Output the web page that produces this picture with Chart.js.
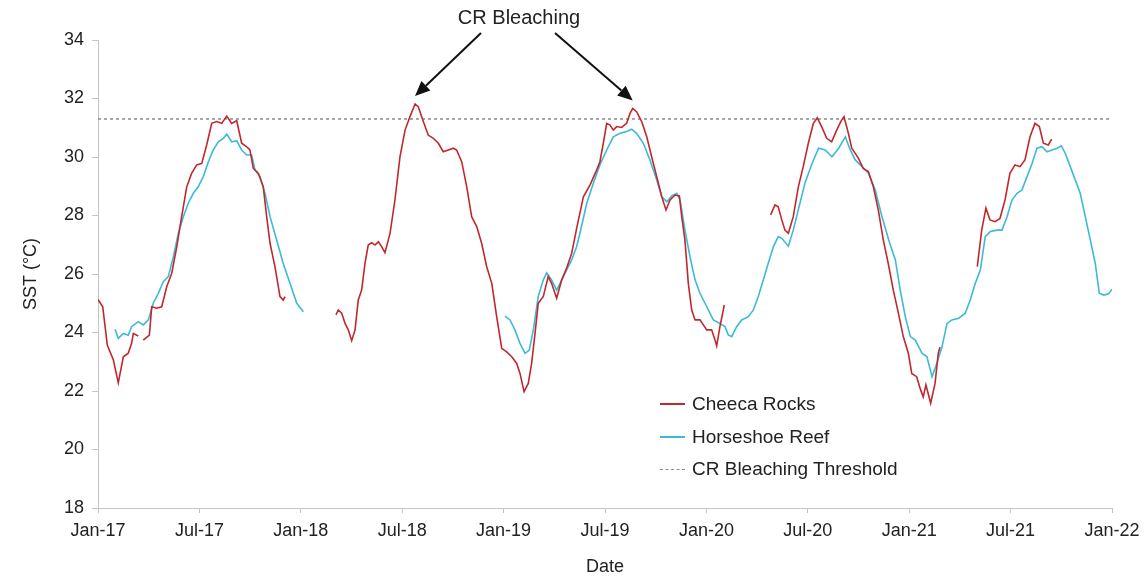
<!DOCTYPE html>
<html>
<head>
<meta charset="utf-8">
<title>SST Cheeca Rocks / Horseshoe Reef</title>
<script src="https://cdn.jsdelivr.net/npm/chart.js@4.4.1/dist/chart.umd.min.js"></script>
<style>
  body { margin: 0; background: #fff; }
  #wrap { position: relative; width: 1148px; height: 583px; font-family: "Liberation Sans", Arial, sans-serif; color: #222; }
  #chart { position: absolute; left: 0; top: 0; }
  #note { position: absolute; left: 519px; top: 6px; transform: translateX(-50%); font-size: 20px; white-space: nowrap; }
  #legend { position: absolute; left: 660px; top: 388px; font-size: 19px; }
  #legend .row { display: flex; align-items: center; height: 32.5px; white-space: nowrap; }
  #legend .swatch { width: 25px; margin-right: 7px; }
</style>
</head>
<body>
<div id="wrap">
  <canvas id="chart" width="1148" height="583"></canvas>
  <div id="note">CR Bleaching</div>
  <div id="legend"></div>
</div>
<script>
// x values are months counted from Jan 2017; null marks a gap in the record
const tickLabels = ['Jan-17', 'Jul-17', 'Jan-18', 'Jul-18', 'Jan-19', 'Jul-19', 'Jan-20', 'Jul-20', 'Jan-21', 'Jul-21', 'Jan-22'];
const bleachingThreshold = 31.3;

const cheecaMonths = [
  0.00, 0.28, 0.55, 0.91, 1.20, 1.50, 1.79, 1.99, 2.09, 2.38, 2.53,
  2.68, 3.04, 3.18, 3.47, 3.77, 4.07, 4.36, 4.66, 4.95, 5.25, 5.54, 5.84, 6.14, 6.43, 6.73, 7.02, 7.32, 7.62, 7.91, 8.21,
  8.50, 8.80, 8.99, 9.19, 9.49, 9.78, 9.98, 10.18, 10.47, 10.77, 10.96, 11.07, 12.50,
  14.08, 14.22, 14.42, 14.62, 14.81, 15.01, 15.21, 15.40, 15.60, 15.80, 15.99, 16.20, 16.39, 16.59, 16.79, 16.98,
  17.28, 17.57, 17.87, 18.17, 18.46, 18.76, 18.95, 19.25, 19.54, 19.84, 20.14, 20.43, 20.73, 21.02, 21.22, 21.52,
  21.82, 22.11, 22.41, 22.70, 23.00, 23.30, 23.59, 23.89, 24.18, 24.48, 24.77, 24.97, 25.21, 25.46, 25.66, 25.86,
  26.05, 26.35, 26.64, 26.84, 27.14, 27.44, 27.73, 28.03, 28.32, 28.72, 29.11, 29.51, 29.70, 29.90, 30.10, 30.30,
  30.49, 30.69, 30.98, 31.28, 31.48, 31.64, 31.87, 32.17, 32.47, 32.76, 33.06, 33.36, 33.61, 33.85, 34.14, 34.40,
  34.54, 34.73, 34.93, 35.13, 35.33, 35.62, 35.82, 36.02, 36.31, 36.51, 36.61, 36.80, 37.06, 38.50,
  39.80, 40.06, 40.25, 40.46, 40.65, 40.85, 41.14, 41.44, 41.73, 42.03, 42.33, 42.56, 42.82, 43.12, 43.41, 43.71,
  43.95, 44.14, 44.40, 44.60, 44.99, 45.28, 45.58, 45.88, 46.17, 46.47, 46.76, 47.06, 47.36, 47.65, 47.95, 48.15,
  48.44, 48.68, 48.83, 48.99, 49.27, 49.53, 49.72, 49.82, 51.00,
  52.03, 52.29, 52.54, 52.78, 53.08, 53.37, 53.67, 53.96, 54.26, 54.56, 54.85, 55.15, 55.44, 55.70, 55.94, 56.23, 56.43
];
const cheecaSST = [
  25.13, 24.88, 23.57, 23.06, 22.28, 23.17, 23.29, 23.63, 23.97, 23.88, null,
  23.74, 23.91, 24.88, 24.83, 24.88, 25.57, 26.02, 26.93, 27.96, 28.98, 29.44, 29.73, 29.78, 30.41, 31.15, 31.21, 31.15, 31.40, 31.15, 31.24,
  30.47, 30.35, 30.24, 29.61, 29.44, 28.98, 27.96, 27.05, 26.25, 25.23, 25.11, 25.23, null,
  24.60, 24.77, 24.66, 24.31, 24.09, 23.72, 24.09, 25.11, 25.45, 26.37, 26.99, 27.07, 26.99, 27.10, 26.93, 26.73,
  27.39, 28.53, 30.01, 30.92, 31.38, 31.81, 31.72, 31.21, 30.75, 30.64, 30.47, 30.18, 30.24, 30.30, 30.24, 29.84,
  28.98, 27.96, 27.62, 27.05, 26.25, 25.68, 24.54, 23.46, 23.34, 23.17, 22.95, 22.60, 21.98, 22.26, 22.95, 23.97,
  25.00, 25.23, 25.91, 25.68, 25.17, 25.80, 26.20, 26.71, 27.55, 28.64, 29.04, 29.56, 29.84, 30.47, 31.15, 31.09,
  30.92, 31.04, 31.01, 31.15, 31.49, 31.66, 31.55, 31.21, 30.69, 30.01, 29.33, 28.64, 28.19, 28.53, 28.70, 28.67,
  27.96, 27.16, 25.68, 24.77, 24.43, 24.43, 24.26, 24.09, 24.09, 23.74, 23.54, 24.20, 24.94, null,
  28.02, 28.36, 28.30, 27.85, 27.50, 27.39, 27.96, 28.98, 29.67, 30.47, 31.15, 31.34, 31.04, 30.64, 30.52, 30.92,
  31.21, 31.38, 30.81, 30.30, 29.96, 29.61, 29.50, 28.98, 28.19, 27.16, 26.36, 25.45, 24.66, 23.86, 23.29, 22.60,
  22.49, 22.03, 21.80, 22.21, 21.58, 22.26, 23.29, 23.50, null,
  26.25, 27.50, 28.25, 27.85, 27.79, 27.90, 28.53, 29.44, 29.73, 29.67, 29.90, 30.69, 31.15, 31.04, 30.47, 30.41, 30.61
];

const horseshoeMonths = [
  1.01, 1.20, 1.50, 1.79, 1.99, 2.38, 2.68, 2.98, 3.27, 3.57, 3.86, 4.16, 4.46, 4.75, 5.05, 5.34,
  5.64, 5.93, 6.23, 6.53, 6.82, 7.12, 7.41, 7.62, 7.91, 8.21, 8.50, 8.80, 9.09, 9.29, 9.59, 9.88,
  10.18, 10.57, 10.96, 11.36, 11.76, 12.15, 18.00,
  24.08, 24.38, 24.67, 24.97, 25.27, 25.52, 25.76, 26.05, 26.35, 26.55, 26.84, 27.14, 27.44, 27.73, 28.03, 28.32,
  28.52, 28.92, 29.31, 29.70, 30.10, 30.49, 30.89, 31.28, 31.58, 31.87, 32.27, 32.66, 33.06, 33.36, 33.66, 33.95,
  34.25, 34.44, 34.73, 35.03, 35.33, 35.62, 36.02, 36.41, 36.80, 37.10, 37.30, 37.50, 37.79, 38.09, 38.48, 38.78,
  39.07, 39.37, 39.66, 39.96, 40.25, 40.46, 40.85, 41.14, 41.44, 41.83, 42.25, 42.64, 43.03, 43.43, 43.83, 44.22,
  44.51, 44.81, 45.21, 45.60, 45.99, 46.39, 46.79, 47.18, 47.47, 47.77, 48.07, 48.36, 48.76, 49.05, 49.35, 49.64,
  49.94, 50.24, 50.53, 50.93, 51.32, 51.61, 51.91, 52.21, 52.50, 52.80, 53.20, 53.49, 53.79, 54.08, 54.38, 54.67,
  54.97, 55.27, 55.56, 55.86, 56.15, 56.45, 56.75, 57.00, 57.24, 57.53, 57.83, 58.12, 58.42, 58.72, 59.01, 59.25,
  59.51, 59.80, 60.00
];
const horseshoeSST = [
  24.11, 23.80, 23.97, 23.91, 24.20, 24.37, 24.26, 24.43, 25.00, 25.34, 25.74, 25.91, 26.59, 27.39, 27.96, 28.42,
  28.76, 28.98, 29.33, 29.84, 30.24, 30.52, 30.64, 30.78, 30.52, 30.55, 30.24, 30.07, 30.07, 29.56, 29.33, 28.76,
  27.96, 27.16, 26.36, 25.68, 25.00, 24.71, null,
  24.56, 24.43, 24.09, 23.63, 23.29, 23.40, 24.09, 25.23, 25.80, 26.04, 25.80, 25.45, 25.80, 26.14, 26.48, 26.93,
  27.40, 28.42, 29.10, 29.73, 30.24, 30.69, 30.81, 30.87, 30.95, 30.81, 30.47, 29.90, 29.21, 28.64, 28.47, 28.67,
  28.76, 28.53, 27.50, 26.59, 25.80, 25.34, 24.88, 24.43, 24.31, 24.20, 23.91, 23.86, 24.20, 24.43, 24.54, 24.77,
  25.23, 25.80, 26.37, 26.93, 27.28, 27.22, 26.95, 27.50, 28.20, 29.10, 29.78, 30.30, 30.24, 30.01, 30.30, 30.69,
  30.24, 29.90, 29.67, 29.44, 28.87, 27.96, 27.16, 26.48, 25.45, 24.54, 23.86, 23.74, 23.29, 23.17, 22.49, 22.95,
  23.51, 24.31, 24.43, 24.49, 24.66, 25.11, 25.68, 26.14, 27.28, 27.45, 27.50, 27.50, 27.96, 28.53, 28.76, 28.87,
  29.33, 29.78, 30.30, 30.35, 30.18, 30.24, 30.30, 30.38, 30.12, 29.67, 29.21, 28.76, 27.96, 27.16, 26.36, 25.34,
  25.28, 25.32, 25.48
];

// the two Cheeca Rocks peaks singled out as bleaching events
const bleachingWindows = [[15, 22], [28, 35]];

const toPoints = (xs, ys) => xs.map((m, i) => ({ x: m, y: ys[i] }));

function peakIn(from, to) {
  let best = null;
  cheecaMonths.forEach((m, i) => {
    const v = cheecaSST[i];
    if (m >= from && m <= to && v !== null && (best === null || v > best.y)) best = { x: m, y: v };
  });
  return best;
}

const axisGrey = '#c4c4c4';
const textColor = '#222';
const font18 = { family: '"Liberation Sans", Arial, sans-serif', size: 18 };

// arrows from the "CR Bleaching" note down to the peaks
const bleachArrows = {
  id: 'bleachArrows',
  afterDatasetsDraw(chart) {
    const { ctx, scales: { x, y } } = chart;
    const starts = [[481, 33], [555, 33]];
    ctx.save();
    ctx.strokeStyle = '#111';
    ctx.fillStyle = '#111';
    ctx.lineWidth = 2;
    bleachingWindows.forEach(([a, b], k) => {
      const p = peakIn(a, b);
      const tx = x.getPixelForValue(p.x);
      const ty = y.getPixelForValue(p.y) - 8;
      const [sx, sy] = starts[k];
      const ang = Math.atan2(ty - sy, tx - sx);
      const len = 15, half = 6.5;
      const bx = tx - len * Math.cos(ang), by = ty - len * Math.sin(ang);
      ctx.beginPath();
      ctx.moveTo(sx, sy);
      ctx.lineTo(bx, by);
      ctx.stroke();
      ctx.beginPath();
      ctx.moveTo(tx, ty);
      ctx.lineTo(bx + half * Math.sin(ang), by - half * Math.cos(ang));
      ctx.lineTo(bx - half * Math.sin(ang), by + half * Math.cos(ang));
      ctx.closePath();
      ctx.fill();
    });
    ctx.restore();
  }
};

const chart = new Chart(document.getElementById('chart'), {
  type: 'line',
  data: {
    datasets: [
      {
        label: 'Cheeca Rocks',
        data: toPoints(cheecaMonths, cheecaSST),
        borderColor: '#c0282e',
        borderWidth: 1.6,
        pointRadius: 0,
        spanGaps: false
      },
      {
        label: 'Horseshoe Reef',
        data: toPoints(horseshoeMonths, horseshoeSST),
        borderColor: '#3dbad6',
        borderWidth: 1.6,
        pointRadius: 0,
        spanGaps: false
      },
      {
        label: 'CR Bleaching Threshold',
        data: [{ x: 0, y: bleachingThreshold }, { x: 60, y: bleachingThreshold }],
        borderColor: '#8c8c8c',
        borderWidth: 1.5,
        borderDash: [3, 3],
        pointRadius: 0
      }
    ]
  },
  options: {
    responsive: false,
    animation: false,
    layout: { padding: { top: 40, right: 36, left: 0, bottom: 0 } },
    plugins: { legend: { display: false }, tooltip: { enabled: false } },
    scales: {
      x: {
        type: 'linear',
        min: 0,
        max: 60,
        afterFit: s => { s.height = 75; },
        afterBuildTicks: s => { s.ticks = tickLabels.map((_, i) => ({ value: i * 6 })); },
        ticks: {
          autoSkip: false,
          maxRotation: 0,
          padding: 7,
          color: textColor,
          font: font18,
          callback: v => tickLabels[v / 6]
        },
        grid: { drawOnChartArea: false, tickLength: 5, color: axisGrey },
        border: { color: axisGrey },
        title: { display: true, text: 'Date', color: textColor, font: font18, padding: { bottom: 5 } }
      },
      y: {
        min: 18,
        max: 34,
        afterFit: s => { s.width = 98; },
        ticks: { stepSize: 2, padding: 8, color: textColor, font: font18 },
        grid: { drawOnChartArea: false, tickLength: 6, color: axisGrey },
        border: { color: axisGrey },
        title: { display: true, text: 'SST (°C)', color: textColor, font: font18, padding: { top: 20 } }
      }
    }
  },
  plugins: [bleachArrows]
});

// legend rows built from the datasets
const legend = document.getElementById('legend');
chart.data.datasets.forEach(ds => {
  const row = document.createElement('div');
  row.className = 'row';
  const sw = document.createElement('div');
  sw.className = 'swatch';
  sw.style.borderTop = ds.borderDash ? '1.5px dashed ' + ds.borderColor : '2px solid ' + ds.borderColor;
  const label = document.createElement('span');
  label.textContent = ds.label;
  row.appendChild(sw);
  row.appendChild(label);
  legend.appendChild(row);
});
</script>
</body>
</html>
